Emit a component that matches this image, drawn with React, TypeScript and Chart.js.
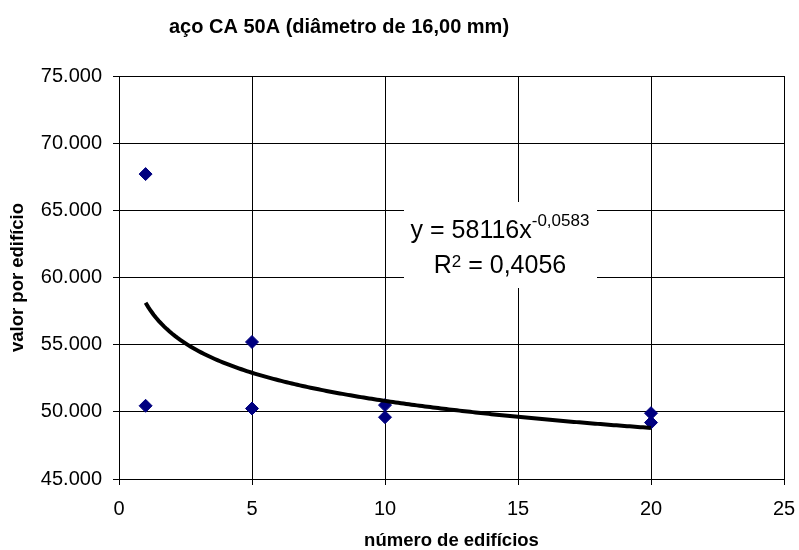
import React, { useEffect, useRef } from "react";
import { Chart, registerables } from "chart.js";

Chart.register(...registerables);

const TITLE = "aço CA 50A (diâmetro de 16,00 mm)";
const X_TITLE = "número de edifícios";
const Y_TITLE = "valor por edifício";

const X_VALUES = [1, 1, 5, 5, 10, 10, 20, 20];
const Y_VALUES = [67700, 50450, 55200, 50250, 50500, 49600, 49900, 49200];

// power trendline shown on the chart: y = 58116 x^-0.0583
const TREND_A = 58116;
const TREND_B = -0.0583;
const TREND_X_START = 1;
const TREND_X_END = 20;
const TREND_STEP = 0.1;

const EQ_MAIN = "y = 58116x";
const EQ_EXP = "-0,0583";
const R2_MAIN = "R";
const R2_EXP = "2";
const R2_REST = " = 0,4056";

const X_MIN = 0;
const X_MAX = 25;
const X_STEP = 5;
const Y_MIN = 45000;
const Y_MAX = 75000;
const Y_STEP = 5000;

const FONT = "'Liberation Sans', Arial, sans-serif";

function fmtThousands(v: number): string {
  return Math.round(v)
    .toString()
    .replace(/\B(?=(\d{3})+(?!\d))/g, ".");
}

function trendPoints() {
  const pts: { x: number; y: number }[] = [];
  const n = Math.round((TREND_X_END - TREND_X_START) / TREND_STEP);
  for (let i = 0; i <= n; i++) {
    const x = TREND_X_START + i * TREND_STEP;
    pts.push({ x, y: TREND_A * Math.pow(x, TREND_B) });
  }
  return pts;
}

const overlayPlugin = {
  id: "overlay",
  beforeDatasetsDraw(chart: any) {
    const ctx = chart.ctx as CanvasRenderingContext2D;
    const cx = 500;
    ctx.save();
    ctx.fillStyle = "#ffffff";
    ctx.fillRect(404, 202, 193, 86);
    ctx.fillStyle = "#000000";
    ctx.textBaseline = "alphabetic";
    ctx.textAlign = "left";
    const mainFont = `25px ${FONT}`;
    const supFont = `17px ${FONT}`;
    // line 1
    ctx.font = mainFont;
    const w1 = ctx.measureText(EQ_MAIN).width;
    ctx.font = supFont;
    const w1s = ctx.measureText(EQ_EXP).width;
    let x = cx - (w1 + w1s) / 2;
    ctx.font = mainFont;
    ctx.fillText(EQ_MAIN, x, 238);
    ctx.font = supFont;
    ctx.fillText(EQ_EXP, x + w1, 226);
    // line 2
    ctx.font = mainFont;
    const wr = ctx.measureText(R2_MAIN).width;
    const wrest = ctx.measureText(R2_REST).width;
    ctx.font = supFont;
    const wsup = ctx.measureText(R2_EXP).width;
    x = cx - (wr + wsup + wrest) / 2;
    ctx.font = mainFont;
    ctx.fillText(R2_MAIN, x, 273);
    ctx.font = supFont;
    ctx.fillText(R2_EXP, x + wr, 267);
    ctx.font = mainFont;
    ctx.fillText(R2_REST, x + wr + wsup, 273);
    ctx.restore();
  },
  afterDraw(chart: any) {
    const ctx = chart.ctx as CanvasRenderingContext2D;
    ctx.save();
    ctx.fillStyle = "#000000";
    ctx.font = `bold 20px ${FONT}`;
    ctx.textAlign = "center";
    ctx.textBaseline = "alphabetic";
    ctx.fillText(TITLE, 339, 33);
    ctx.restore();
  },
};

export default function App() {
  const ref = useRef<HTMLCanvasElement | null>(null);

  useEffect(() => {
    if (!ref.current) return;
    const scatter = X_VALUES.map((x, i) => ({ x, y: Y_VALUES[i] }));
    const chart = new Chart(ref.current, {
      type: "scatter",
      data: {
        datasets: [
          {
            label: "trend",
            type: "line",
            data: trendPoints(),
            borderColor: "#000000",
            borderWidth: 4,
            pointRadius: 0,
            fill: false,
            tension: 0,
            order: 0,
          } as any,
          {
            label: "valor",
            data: scatter,
            backgroundColor: "#000080",
            borderColor: "#000080",
            borderWidth: 1,
            pointStyle: "rectRot",
            pointRadius: 6.5,
            order: 1,
          },
        ],
      },
      options: {
        responsive: false,
        animation: false,
        layout: { padding: { left: 0, top: 76, right: 15, bottom: 0 } },
        plugins: {
          legend: { display: false },
          tooltip: { enabled: false },
          title: { display: false },
        },
        scales: {
          x: {
            type: "linear",
            position: "bottom",
            min: X_MIN,
            max: X_MAX,
            ticks: {
              stepSize: X_STEP,
              color: "#000",
              font: { family: FONT, size: 20 },
              padding: 12,
            },
            grid: { color: "#000", lineWidth: 1, tickLength: 6 },
            border: { display: true, color: "#000", width: 1 },
            title: {
              display: true,
              text: X_TITLE,
              color: "#000",
              font: { family: FONT, size: 18.5, weight: "bold", lineHeight: 1 },
              padding: { top: 0, bottom: 0 },
            },
            afterFit: (s: any) => {
              s.height = 71;
              s.paddingLeft = 0;
              s.paddingRight = 0;
            },
          },
          y: {
            type: "linear",
            min: Y_MIN,
            max: Y_MAX,
            ticks: {
              stepSize: Y_STEP,
              color: "#000",
              font: { family: FONT, size: 20 },
              padding: 11,
              callback: (v: any) => fmtThousands(Number(v)),
            },
            grid: { color: "#000", lineWidth: 1, tickLength: 6 },
            border: { display: true, color: "#000", width: 1 },
            title: {
              display: true,
              text: Y_TITLE,
              color: "#000",
              font: { family: FONT, size: 18.5, weight: "bold", lineHeight: 1 },
              padding: { top: 9, bottom: 0 },
            },
            afterFit: (s: any) => {
              s.width = 119;
              s.paddingTop = 0;
              s.paddingBottom = 0;
            },
          },
        },
      },
      plugins: [overlayPlugin],
    });
    return () => chart.destroy();
  }, []);

  return (
    <div style={{ position: "fixed", left: 0, top: 0, width: 799, height: 550, background: "#fff" }}>
      <canvas ref={ref} width={799} height={550} style={{ display: "block" }} />
    </div>
  );
}
